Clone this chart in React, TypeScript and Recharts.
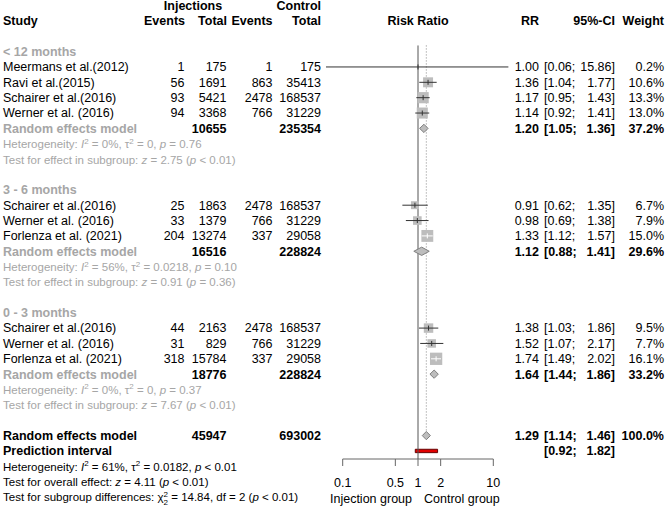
import React from 'react';
import {
  ComposedChart,
  Scatter,
  XAxis,
  YAxis,
  ReferenceLine,
  ReferenceArea,
} from 'recharts';

// ---- data ----
const groupLabels = ['< 12 months', '3 - 6 months', '0 - 3 months'];
const studyNames = [
  'Meermans et al.(2012)', 'Ravi et al.(2015)', 'Schairer et al.(2016)', 'Werner et al. (2016)',
  'Schairer et al.(2016)', 'Werner et al. (2016)', 'Forlenza et al. (2021)',
  'Schairer et al.(2016)', 'Werner et al. (2016)', 'Forlenza et al. (2021)',
];
const studyGroup = [0, 0, 0, 0, 1, 1, 1, 2, 2, 2];
const injEvents = [1, 56, 93, 94, 25, 33, 204, 44, 31, 318];
const injTotal = [175, 1691, 5421, 3368, 1863, 1379, 13274, 2163, 829, 15784];
const ctrlEvents = [1, 863, 2478, 766, 2478, 766, 337, 2478, 766, 337];
const ctrlTotal = [175, 35413, 168537, 31229, 168537, 31229, 29058, 168537, 31229, 29058];
const studyRR = [1.0, 1.36, 1.17, 1.14, 0.91, 0.98, 1.33, 1.38, 1.52, 1.74];
const studyLow = [0.06, 1.04, 0.95, 0.92, 0.62, 0.69, 1.12, 1.03, 1.07, 1.49];
const studyHigh = [15.86, 1.77, 1.43, 1.41, 1.35, 1.38, 1.57, 1.86, 2.17, 2.02];
const studyWeight = [0.2, 10.6, 13.3, 13.0, 6.7, 7.9, 15.0, 9.5, 7.7, 16.1];

const groupInjTotal = [10655, 16516, 18776];
const groupCtrlTotal = [235354, 228824, 228824];
const groupRR = [1.2, 1.12, 1.64];
const groupLow = [1.05, 0.88, 1.44];
const groupHigh = [1.36, 1.41, 1.86];
const groupWeight = [37.2, 29.6, 33.2];
const groupI2 = ['0%', '56%', '0%'];
const groupTau2 = ['0', '0.0218', '0'];
const groupHetP = ['= 0.76', '= 0.10', '= 0.37'];
const groupZ = ['2.75', '0.91', '7.67'];
const groupZP = ['< 0.01', '= 0.36', '< 0.01'];

const overallInjTotal = 45947;
const overallCtrlTotal = 693002;
const overallRR = 1.29;
const overallLow = 1.14;
const overallHigh = 1.46;
const predLow = 0.92;
const predHigh = 1.82;

const axisTicks = [0.1, 0.5, 1, 2, 10];
const axisTickLabels = ['0.1', '0.5', '1', '2', '10'];

// ---- layout ----
const W = 667;
const H = 513;
const AXIS_Y = 459;
const X_ONE = 418;
const DECADE = 75.3;
const ROW0 = 51.6;
const ROW_H = 15.36;
const SQ_MAX = 12.3;
const DIAMOND_H = 0.27;
const FONT = 'Arial, "Liberation Sans", Helvetica, sans-serif';
const GRAY = '#a6a6a6';
const FS = 12.5;
const FS_HET = 11.5;
const BASE = 4.4;
const COL = { study: 3, injEv: 184.5, injTot: 226.5, ctrlEv: 272.5, ctrlTot: 321, rr: 539, ciL: 544, ciR: 615, wt: 664 };

const lg = Math.log10;
const rowY = (r: number) => ROW0 + ROW_H * r;
const xDomain = [-X_ONE / DECADE, (W - X_ONE) / DECADE];
const yDomain = [-ROW0 / ROW_H, (AXIS_Y - ROW0) / ROW_H];

// row layout
const groupRow: number[] = [];
const modelRow: number[] = [];
const hetRow: number[] = [];
const studyRow: number[] = [];
let r = 0;
groupLabels.forEach((_, g) => {
  groupRow[g] = r++;
  studyGroup.forEach((sg, i) => {
    if (sg === g) studyRow[i] = r++;
  });
  modelRow[g] = r++;
  hetRow[g] = r;
  r += 3;
});
const overallRow = r;
const predRow = r + 1;

const maxW = Math.max(...studyWeight);
const sqSide = (w: number) => SQ_MAX * Math.sqrt(w / maxW);
const studyPts = studyNames.map((_, i) => ({
  x: lg(studyRR[i]),
  y: studyRow[i],
  w: studyWeight[i],
  lo: lg(studyLow[i]),
  hi: lg(studyHigh[i]),
}));
// CI drawn white when it fits inside its square
const isInside = (p: any) => (p.hi - p.lo) * DECADE < sqSide(p.w);

const diamondPts = (est: number, lo: number, hi: number, row: number) => [
  { x: lg(lo), y: row },
  { x: lg(est), y: row - DIAMOND_H },
  { x: lg(hi), y: row },
  { x: lg(est), y: row + DIAMOND_H },
];

const SquareShape = (p: any) => {
  const s = sqSide(p.payload.w);
  return <rect x={p.cx - s / 2} y={p.cy - s / 2} width={s} height={s} fill="#bdbdbd" stroke="none" />;
};
const TickShape = (p: any) => (
  <line
    x1={p.cx}
    x2={p.cx}
    y1={p.cy - 2.5}
    y2={p.cy + 2.5}
    stroke={isInside(p.payload) ? '#fff' : '#333'}
    strokeWidth={1}
  />
);
const NoShape = () => <g />;
const diamondLine = (p: any) => (
  <polygon
    points={p.points.map((q: any) => `${q.x},${q.y}`).join(' ')}
    fill="#bdbdbd"
    stroke="#7f7f7f"
    strokeWidth={1}
  />
);

// ---- text helpers ----
type TProps = { x: number; row: number; anchor?: 'start' | 'middle' | 'end'; bold?: boolean; color?: string; size?: number; children: React.ReactNode };
const T = ({ x, row, anchor = 'start', bold, color = '#000', size = FS, children }: TProps) => (
  <text x={x} y={rowY(row) + BASE} textAnchor={anchor} fontWeight={bold ? 'bold' : 'normal'} fill={color} fontSize={size} fontFamily={FONT}>
    {children}
  </text>
);
const Sup = () => (
  <tspan dy={-4.5} fontSize={8}>2</tspan>
);
const Het = ({ i2, tau2, p }: { i2: string; tau2: string; p: string }) => (
  <>
    Heterogeneity: <tspan fontStyle="italic">I</tspan><Sup /><tspan dy={4.5}> = {i2}, τ</tspan><Sup /><tspan dy={4.5}> = {tau2}, </tspan><tspan fontStyle="italic">p</tspan> {p}
  </>
);
const f2 = (v: number) => v.toFixed(2);

const Ci = ({ row, lo, hi, bold }: { row: number; lo: number; hi: number; bold?: boolean }) => (
  <>
    <T x={COL.ciL} row={row} bold={bold}>[{f2(lo)};</T>
    <T x={COL.ciR} row={row} anchor="end" bold={bold}>{f2(hi)}]</T>
  </>
);

const TextLayer = () => (
  <svg width={W} height={H} style={{ position: 'absolute', left: 0, top: 0, pointerEvents: 'none' }}>
    {/* headers */}
    <T x={193} row={-3} anchor="middle" bold>Injections</T>
    <T x={COL.ctrlTot} row={-3} anchor="end" bold>Control</T>
    <T x={COL.study} row={-2} bold>Study</T>
    <T x={COL.injEv + 0.5} row={-2} anchor="end" bold>Events</T>
    <T x={COL.injTot + 0.5} row={-2} anchor="end" bold>Total</T>
    <T x={COL.ctrlEv} row={-2} anchor="end" bold>Events</T>
    <T x={COL.ctrlTot} row={-2} anchor="end" bold>Total</T>
    <T x={X_ONE} row={-2} anchor="middle" bold>Risk Ratio</T>
    <T x={COL.rr} row={-2} anchor="end" bold>RR</T>
    <T x={COL.ciR} row={-2} anchor="end" bold>95%-CI</T>
    <T x={COL.wt} row={-2} anchor="end" bold>Weight</T>

    {studyNames.map((name, i) => (
      <g key={'s' + i}>
        <T x={COL.study} row={studyRow[i]}>{name}</T>
        <T x={COL.injEv} row={studyRow[i]} anchor="end">{injEvents[i]}</T>
        <T x={COL.injTot} row={studyRow[i]} anchor="end">{injTotal[i]}</T>
        <T x={COL.ctrlEv} row={studyRow[i]} anchor="end">{ctrlEvents[i]}</T>
        <T x={COL.ctrlTot} row={studyRow[i]} anchor="end">{ctrlTotal[i]}</T>
        <T x={COL.rr} row={studyRow[i]} anchor="end">{f2(studyRR[i])}</T>
        <Ci row={studyRow[i]} lo={studyLow[i]} hi={studyHigh[i]} />
        <T x={COL.wt} row={studyRow[i]} anchor="end">{studyWeight[i].toFixed(1)}%</T>
      </g>
    ))}

    {groupLabels.map((lab, g) => (
      <g key={'g' + g}>
        <T x={COL.study} row={groupRow[g]} bold color={GRAY}>{lab}</T>
        <T x={COL.study} row={modelRow[g]} bold color={GRAY}>Random effects model</T>
        <T x={COL.injTot} row={modelRow[g]} anchor="end" bold>{groupInjTotal[g]}</T>
        <T x={COL.ctrlTot} row={modelRow[g]} anchor="end" bold>{groupCtrlTotal[g]}</T>
        <T x={COL.rr} row={modelRow[g]} anchor="end" bold>{f2(groupRR[g])}</T>
        <Ci row={modelRow[g]} lo={groupLow[g]} hi={groupHigh[g]} bold />
        <T x={COL.wt} row={modelRow[g]} anchor="end" bold>{groupWeight[g].toFixed(1)}%</T>
        <T x={COL.study} row={hetRow[g]} color={GRAY} size={FS_HET}>
          <Het i2={groupI2[g]} tau2={groupTau2[g]} p={groupHetP[g]} />
        </T>
        <T x={COL.study} row={hetRow[g] + 1} color={GRAY} size={FS_HET}>
          Test for effect in subgroup: <tspan fontStyle="italic">z</tspan> = {groupZ[g]} (<tspan fontStyle="italic">p</tspan> {groupZP[g]})
        </T>
      </g>
    ))}

    <T x={COL.study} row={overallRow} bold>Random effects model</T>
    <T x={COL.injTot} row={overallRow} anchor="end" bold>{overallInjTotal}</T>
    <T x={COL.ctrlTot} row={overallRow} anchor="end" bold>{overallCtrlTotal}</T>
    <T x={COL.rr} row={overallRow} anchor="end" bold>{f2(overallRR)}</T>
    <Ci row={overallRow} lo={overallLow} hi={overallHigh} bold />
    <T x={COL.wt} row={overallRow} anchor="end" bold>100.0%</T>
    <T x={COL.study} row={predRow} bold>Prediction interval</T>
    <Ci row={predRow} lo={predLow} hi={predHigh} bold />

    <T x={COL.study} row={predRow + 1} size={FS_HET}>
      <Het i2="61%" tau2="0.0182" p="< 0.01" />
    </T>
    <T x={COL.study} row={predRow + 2} size={FS_HET}>
      Test for overall effect: <tspan fontStyle="italic">z</tspan> = 4.11 (<tspan fontStyle="italic">p</tspan> {'< 0.01'})
    </T>
    <T x={COL.study} row={predRow + 3} size={FS_HET}>
      Test for subgroup differences: χ<tspan dy={-4.5} fontSize={8}>2</tspan><tspan dx={-4.4} dy={8.5} fontSize={8}>2</tspan><tspan dy={-4}> = 14.84, df = 2 (</tspan><tspan fontStyle="italic">p</tspan> {'< 0.01'})
    </T>

    <T x={X_ONE - 6} row={predRow + 3.1} anchor="end" size={FS}>Injection group</T>
    <T x={X_ONE + 6} row={predRow + 3.1} size={FS}>Control group</T>
  </svg>
);

export default function App() {
  return (
    <div style={{ position: 'absolute', left: 0, top: 0, width: W, height: H, background: '#fff' }}>
      <ComposedChart width={W} height={H} margin={{ top: 0, right: 0, bottom: 0, left: 0 }}>
        <XAxis
          type="number"
          dataKey="x"
          domain={xDomain}
          allowDataOverflow
          ticks={axisTicks.map(lg)}
          interval={0}
          tickFormatter={(_v: number, i: number) => axisTickLabels[i]}
          axisLine={false}
          tickLine={{ stroke: '#666' }}
          tickSize={7}
          tickMargin={12}
          height={H - AXIS_Y}
          tick={{ fontSize: FS, fill: '#000', fontFamily: FONT }}
        />
        <YAxis type="number" dataKey="y" domain={yDomain} reversed hide allowDataOverflow />

        <ReferenceLine
          segment={[{ x: lg(axisTicks[0]), y: yDomain[1] }, { x: lg(axisTicks[axisTicks.length - 1]), y: yDomain[1] }]}
          stroke="#666"
          ifOverflow="visible"
        />
        <ReferenceLine segment={[{ x: 0, y: -0.4 }, { x: 0, y: yDomain[1] }]} stroke="#555" ifOverflow="visible" />
        <ReferenceLine
          segment={[{ x: lg(overallRR), y: -0.4 }, { x: lg(overallRR), y: overallRow - DIAMOND_H }]}
          stroke="#888"
          strokeDasharray="1 2"
          ifOverflow="visible"
        />

        <Scatter data={studyPts} shape={SquareShape} isAnimationActive={false} />
        {studyPts.map((p, i) => (
          <Scatter
            key={'ci' + i}
            data={[{ x: p.lo, y: p.y }, { x: p.hi, y: p.y }]}
            shape={NoShape}
            line={{ stroke: isInside(p) ? '#fff' : '#333', strokeWidth: 1 }}
            isAnimationActive={false}
          />
        ))}
        <Scatter data={studyPts} shape={TickShape} isAnimationActive={false} />

        {groupLabels.map((_, g) => (
          <Scatter
            key={'d' + g}
            data={diamondPts(groupRR[g], groupLow[g], groupHigh[g], modelRow[g])}
            shape={NoShape}
            line={diamondLine}
            isAnimationActive={false}
          />
        ))}
        <Scatter
          data={diamondPts(overallRR, overallLow, overallHigh, overallRow)}
          shape={NoShape}
          line={diamondLine}
          isAnimationActive={false}
        />

        <ReferenceArea
          x1={lg(predLow)}
          x2={lg(predHigh)}
          y1={predRow - 0.11}
          y2={predRow + 0.11}
          fill="#e00000"
          fillOpacity={1}
          stroke="#600"
          strokeWidth={1}
          ifOverflow="visible"
        />
      </ComposedChart>
      <TextLayer />
    </div>
  );
}
